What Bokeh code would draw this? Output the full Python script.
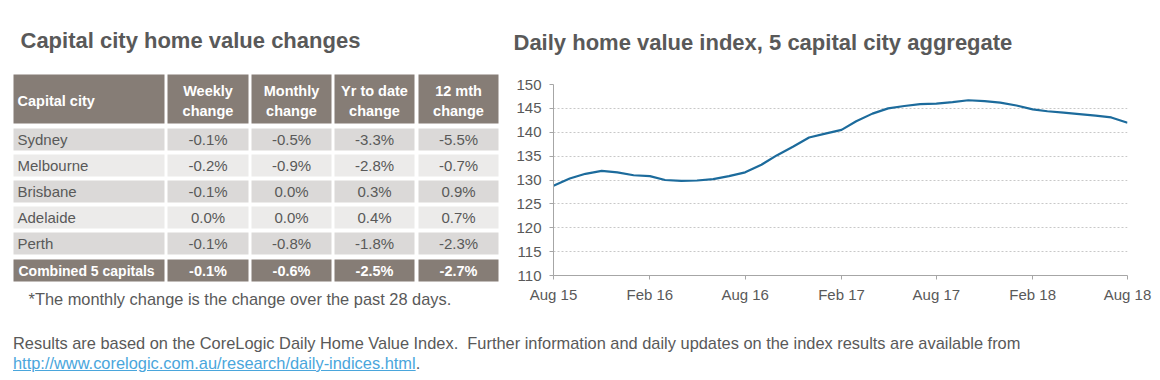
import pandas as pd
from bokeh.plotting import figure
from bokeh.layouts import column, row
from bokeh.models import (Range1d, FixedTicker, DatetimeTickFormatter, Div,
                          ColumnDataSource)
from bokeh.core.properties import value
from bokeh.embed import file_html
from bokeh.resources import INLINE

# ---------------- data ----------------
cities = ["Sydney", "Melbourne", "Brisbane", "Adelaide", "Perth"]
weekly = [-0.1, -0.2, -0.1, 0.0, -0.1]
monthly = [-0.5, -0.9, 0.0, 0.0, -0.8]
ytd = [-3.3, -2.8, 0.3, 0.4, -1.8]
twelve_mth = [-5.5, -0.7, 0.9, 0.7, -2.3]
combined_label = "Combined 5 capitals"
combined = [-0.1, -0.6, -2.5, -2.7]
col_headers_1 = ["Weekly", "Monthly", "Yr to date", "12 mth"]
col_headers_2 = ["change", "change", "change", "change"]

months = ["2015-08", "2015-09", "2015-10", "2015-11", "2015-12",
          "2016-01", "2016-02", "2016-03", "2016-04", "2016-05", "2016-06",
          "2016-07", "2016-08", "2016-09", "2016-10", "2016-11", "2016-12",
          "2017-01", "2017-02", "2017-03", "2017-04", "2017-05", "2017-06",
          "2017-07", "2017-08", "2017-09", "2017-10", "2017-11", "2017-12",
          "2018-01", "2018-02", "2018-03", "2018-04", "2018-05", "2018-06",
          "2018-07", "2018-08"]
index_values = [128.8, 130.3, 131.3, 131.9, 131.6,
                131.0, 130.8, 130.0, 129.8, 129.9, 130.2,
                130.8, 131.6, 133.2, 135.2, 137.0, 138.9,
                139.7, 140.5, 142.3, 143.9, 145.0, 145.5,
                145.9, 146.0, 146.3, 146.7, 146.5, 146.2,
                145.6, 144.8, 144.4, 144.1, 143.8, 143.5,
                143.1, 142.0]
tick_months = ["2015-08", "2016-02", "2016-08", "2017-02", "2017-08", "2018-02", "2018-08"]
y_ticks = [110, 115, 120, 125, 130, 135, 140, 145, 150]

# ---------------- styles ----------------
FONT = "Liberation Sans"
TXT = "#595959"
HEAD_BG = "#867d76"
ROW_DARK = "#dbd9d8"
ROW_LIGHT = "#ecebea"
LINE_C = "#1c6b9c"

W_L, W_R, H_TOP = 508, 652, 310


def no_frame_align(fig):
    if "frame_align" in fig.properties():
        fig.frame_align = False


# ---------------- table figure ----------------
t = figure(width=W_L, height=H_TOP, x_range=Range1d(0, W_L), y_range=Range1d(H_TOP, 0),
           output_backend="svg", toolbar_location=None, min_border=0)
no_frame_align(t)
t.axis.visible = False
t.grid.visible = False
t.outline_line_color = None
t.background_fill_color = "white"

col_l = [13, 167, 251, 334, 418]
col_r = [164, 248, 331, 414, 498]
head_top, head_bot = 74, 123
row0, pitch, rh = 128, 26, 22

# header cells
t.quad(left=col_l, right=col_r, top=[head_top] * 5, bottom=[head_bot] * 5,
       fill_color=HEAD_BG, line_color=None)
t.text(x=[col_l[0] + 4], y=[100], text=["Capital city"], text_font=value(FONT),
       text_font_size="14.5px", text_font_style="bold", text_color="white",
       text_baseline="middle", text_align="left")
cx = [(l + r) / 2 for l, r in zip(col_l[1:], col_r[1:])]
t.text(x=cx, y=[90] * 4, text=col_headers_1, text_font=value(FONT), text_font_size="14.5px",
       text_font_style="bold", text_color="white", text_baseline="middle", text_align="center")
t.text(x=cx, y=[110] * 4, text=col_headers_2, text_font=value(FONT), text_font_size="14.5px",
       text_font_style="bold", text_color="white", text_baseline="middle", text_align="center")

# body rows
series = [weekly, monthly, ytd, twelve_mth]
for i, city in enumerate(cities):
    top = row0 + pitch * i
    fill = ROW_DARK if i % 2 == 0 else ROW_LIGHT
    t.quad(left=col_l, right=col_r, top=[top] * 5, bottom=[top + rh] * 5,
           fill_color=fill, line_color=None)
    yc = top + rh / 2
    t.text(x=[col_l[0] + 4], y=[yc], text=[city], text_font=value(FONT), text_font_size="15px",
           text_color=TXT, text_baseline="middle", text_align="left")
    t.text(x=cx, y=[yc] * 4, text=[f"{s[i]:.1f}%" for s in series], text_font=value(FONT),
           text_font_size="15px", text_color=TXT, text_baseline="middle", text_align="center")

# combined row
ctop = row0 + pitch * len(cities) + 1
t.quad(left=col_l, right=col_r, top=[ctop] * 5, bottom=[ctop + rh] * 5,
       fill_color=HEAD_BG, line_color=None)
yc = ctop + rh / 2
t.text(x=[col_l[0] + 5], y=[yc], text=[combined_label], text_font=value(FONT),
       text_font_size="14px", text_font_style="bold", text_color="white",
       text_baseline="middle", text_align="left")
t.text(x=cx, y=[yc] * 4, text=[f"{v:.1f}%" for v in combined], text_font=value(FONT),
       text_font_size="14.5px", text_font_style="bold", text_color="white",
       text_baseline="middle", text_align="center")

# titles / notes
t.text(x=[20], y=[40], text=["Capital city home value changes"], text_font=value(FONT),
       text_font_size="22px", text_font_style="bold", text_color=TXT,
       text_baseline="middle", text_align="left")
t.text(x=[28], y=[298], text=["*The monthly change is the change over the past 28 days."],
       text_font=value(FONT), text_font_size="16.4px", text_color=TXT,
       text_baseline="middle", text_align="left")

# ---------------- line chart ----------------
dates = pd.to_datetime(months)
src = ColumnDataSource(dict(x=dates, y=index_values))
p = figure(width=W_R, height=H_TOP, x_axis_type="datetime",
           x_range=Range1d(pd.Timestamp("2015-08-01"), pd.Timestamp("2018-08-01")),
           y_range=Range1d(110, 150),
           output_backend="svg", toolbar_location=None,
           min_border_left=45, min_border_right=33, min_border_top=84, min_border_bottom=35,
           title="Daily home value index, 5 capital city aggregate")
no_frame_align(p)
p.outline_line_color = None
p.line("x", "y", source=src, line_color=LINE_C, line_width=2.2)

p.title.align = "left"
p.title.vertical_align = "top"
p.title.offset = -40
p.title.standoff = 55
p.title.text_font = FONT
p.title.text_font_size = "22px"
p.title.text_font_style = "bold"
p.title.text_color = TXT

tick_ms = [pd.Timestamp(m).value / 1e6 for m in tick_months]
p.xaxis.ticker = FixedTicker(ticks=tick_ms)
p.xaxis.formatter = DatetimeTickFormatter(days="%b %y", months="%b %y", years="%b %y",
                                          hours="%b %y", minutes="%b %y")
p.yaxis.ticker = FixedTicker(ticks=y_ticks)
for ax in (p.xaxis, p.yaxis):
    ax.axis_line_color = "#a6a6a6"
    ax.major_tick_line_color = "#a6a6a6"
    ax.major_tick_out = 4
    ax.major_tick_in = 0
    ax.minor_tick_line_color = None
    ax.major_label_text_font = FONT
    ax.major_label_text_font_size = "15px"
    ax.major_label_text_color = TXT
p.xaxis.major_label_standoff = 6
p.yaxis.major_label_standoff = 8
p.xgrid.visible = False
p.ygrid.grid_line_color = "#c8c8c8"
p.ygrid.grid_line_dash = "2 2"
p.ygrid.grid_line_width = 1

# ---------------- footer ----------------
footer = Div(
    text=('<div style="font-family:\'Liberation Sans\',Arial,sans-serif;font-size:16.4px;'
          'color:#595959;line-height:20px;padding-top:23px;padding-left:13px;margin:0">'
          'Results are based on the CoreLogic Daily Home Value Index.&nbsp; Further information '
          'and daily updates on the index results are available from<br>'
          '<a style="color:#4aa6dc;text-decoration:underline">'
          'http://www.corelogic.com.au/research/daily-indices.html</a>.</div>'),
    width=1160, height=70, styles={"margin": "0", "padding": "0"})

layout = column(row(t, p, spacing=0), footer, spacing=0)
open("out.html", "w").write(file_html(layout, INLINE))
